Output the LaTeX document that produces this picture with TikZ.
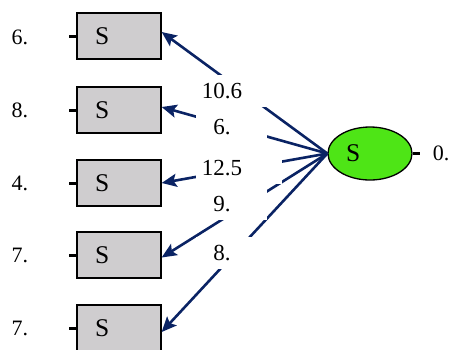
\documentclass[tikz,border=0pt]{standalone}
\usepackage{fontspec}
\setmainfont{Liberation Serif}
\usepackage{xcolor}
\usepackage{tikz}
\usetikzlibrary{positioning, shapes.geometric, arrows.meta}
\definecolor{arrowblue}{RGB}{10,35,100}
\definecolor{boxgray}{RGB}{207,205,207}
\definecolor{latentgreen}{RGB}{78,229,22}
\newcommand{\wtext}[1]{\makebox[52pt]{#1}}

\begin{document}
\begin{tikzpicture}[x=1pt,y=-1pt]
						\tikzstyle{obs}=[rectangle,draw=black,line width=1.3pt,fill=boxgray,minimum height=46pt,inner xsep=18pt,text width=48pt,align=left,font=\fontsize{25.5}{26}\selectfont]
						\tikzstyle{latent}=[ellipse,draw=black,line width=1.3pt,fill=latentgreen,minimum width=84pt,minimum height=53pt,inner sep=0pt,font=\fontsize{25.5}{26}\selectfont]
						\tikzstyle{num}=[font=\fontsize{22}{22}\selectfont]
						\tikzstyle{weight}=[fill=white,inner sep=0pt,minimum height=32pt,align=left,font=\fontsize{23}{23}\selectfont]
						\tikzstyle{load}=[arrowblue,line width=2.6pt,-{Stealth[length=15pt,width=13pt,inset=3pt]}]
						\tikzstyle{stub}=[line width=3pt]
						\useasboundingbox (0,0) rectangle (452,349);
						\node[obs](b1) at (119,36) {S};
						\node[obs](b2) at (119,110) {S};
						\node[obs](b3) at (119,183) {S};
						\node[obs](b4) at (119,255) {S};
						\node[obs](b5) at (119,328) {S};
						\node[latent](e) at (370,153.5) {\makebox[48pt][l]{S}};
						\node[num](r1) at (20,37) {6.};
						\node[num](r2) at (20,110) {8.};
						\node[num](r3) at (20,183) {4.};
						\node[num](r4) at (20,255) {7.};
						\node[num](r5) at (20,328) {7.};
						\node[num](r0) at (441,153) {0.};
						\draw[stub](b1.west) -- ++(-7,0);
						\draw[stub](b2.west) -- ++(-7,0);
						\draw[stub](b3.west) -- ++(-7,0);
						\draw[stub](b4.west) -- ++(-7,0);
						\draw[stub](b5.west) -- ++(-7,0);
						\draw[stub](e.east) -- ++(7,0);
						\draw[load](e.west) -- ([yshift=4pt]b1.east);
						\draw[load](e.west) -- ([yshift=3pt]b2.east);
						\draw[load](e.west) -- (b3.east);
						\draw[load](e.west) -- ([yshift=-2.5pt]b4.east);
						\draw[load](e.west) -- ([yshift=-4pt]b5.east);
						\node[weight,text width=71pt](w1) at (231.5,91) {\wtext{10.6}};
						\node[weight,text width=71pt](w2) at (231.5,127) {\wtext{6.}};
						\node[weight,text width=86pt](w3) at (239,168) {\wtext{12.5}};
						\node[weight,text width=71pt](w4) at (231.5,204) {\wtext{9.}};
						\node[weight,text width=71pt](w5) at (231.5,253) {\wtext{8.}};
					\end{tikzpicture}
\end{document}
